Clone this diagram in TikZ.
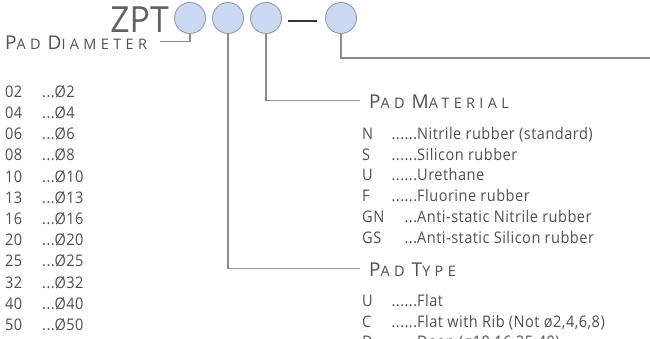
\documentclass[tikz,border=0pt]{standalone}
\usepackage{fontspec}
\setmainfont{Open Sans}
\newfontfamily\itemfont[LetterSpace=3,FakeStretch=0.91]{Open Sans}
\newfontfamily\headfont[LetterSpace=30]{Open Sans}
\newfontfamily\titlefont[FakeStretch=0.94]{Open Sans}
\definecolor{txt}{HTML}{505050}
\definecolor{lnc}{HTML}{8C8C8C}
\definecolor{cfill}{HTML}{C9D9F1}
\definecolor{cdraw}{HTML}{8E94A0}
\newcommand{\hdr}[2]{{\headfont\fontsize{19}{19}\selectfont #1}{\headfont\fontsize{14.5}{14.5}\selectfont #2}}
\newcommand{\hsp}{\hspace{7pt}}
\newcommand{\itm}[3]{\makebox[#3pt][l]{#1}\llap{#2}}
\begin{document}
\begin{tikzpicture}[x=1pt,y=-1pt,
  circ/.style={circle,minimum size=31pt,inner sep=0pt,fill=cfill,draw=cdraw,line width=0.8pt},
  conn/.style={draw=lnc,line width=1.3pt},
  lbl/.style={anchor=base west,inner sep=0pt,text=txt,font=\itemfont\fontsize{16}{16}\selectfont},
  head/.style={anchor=base west,inner sep=0pt,text=txt}]
\useasboundingbox (0,0) rectangle (650,339);
\clip (0,0) rectangle (650,339);
% title
\node[anchor=base east,inner sep=0pt,text=txt!90,font=\titlefont\fontsize{36}{36}\selectfont] (zpt) at (169,33) {ZPT};
\node[circ] (c1) at (190,18) {};
\node[circ] (c2) at (228,18) {};
\node[circ] (c3) at (266,18) {};
\node[circ] (c4) at (341,18) {};
\coordinate (d1) at (288,21);
\coordinate (d2) at (317,21);
\draw[line width=2.4pt,draw=black!80] (d1) -- (d2);
% connector ends
\coordinate (pdl) at (160,41.7);
\coordinate (pml) at (360,100.7);
\coordinate (ptl) at (360,268.5);
\coordinate (edge) at (650,58);
\draw[conn] (c1.south) |- (pdl);
\draw[conn] (c2.south) |- (ptl);
\draw[conn] (c3.south) |- (pml);
\draw[conn] (c4.south) |- (edge);
% headings
\node[head] (hpd) at (5,49.3) {\hdr{P}{AD}\hsp\hdr{D}{IAMETER}};
\node[head] (hpm) at (369,108.7) {\hdr{P}{AD}\hsp\hdr{M}{ATERIAL}};
\node[head] (hpt) at (369,276.7) {\hdr{P}{AD}\hsp\hdr{T}{YPE}};
% diameters
\foreach \a/\b [count=\i from 0] in {02/2,04/4,06/6,08/8,10/10,13/13,16/16,20/20,25/25,32/32,40/40,50/50}{
  \node[lbl] (d\a) at (5,97.3+21.2*\i) {\makebox[37pt][l]{\a}...Ø\b};
}
% materials
\node[lbl] (mN) at (362,139.3) {\itm{N}{......}{55}Nitrile rubber (standard)};
\node[lbl] (mS) at (362,160.1) {\itm{S}{......}{55}Silicon rubber};
\node[lbl] (mU) at (362,180.9) {\itm{U}{......}{55}Urethane};
\node[lbl] (mF) at (362,201.7) {\itm{F}{......}{55}Fluorine rubber};
\node[lbl] (mGN) at (362,222.5) {\itm{GN}{...}{55}Anti-static Nitrile rubber};
\node[lbl] (mGS) at (362,243.3) {\itm{GS}{...}{55}Anti-static Silicon rubber};
% types
\node[lbl] (tU) at (362,306.7) {\itm{U}{......}{55}Flat};
\node[lbl] (tC) at (362,327.3) {\itm{C}{......}{55}Flat with Rib (Not ø2,4,6,8)};
\node[lbl] (tD) at (362,347.9) {\itm{D}{......}{55}Deep (ø10,16,25,40)};
\end{tikzpicture}
\end{document}
